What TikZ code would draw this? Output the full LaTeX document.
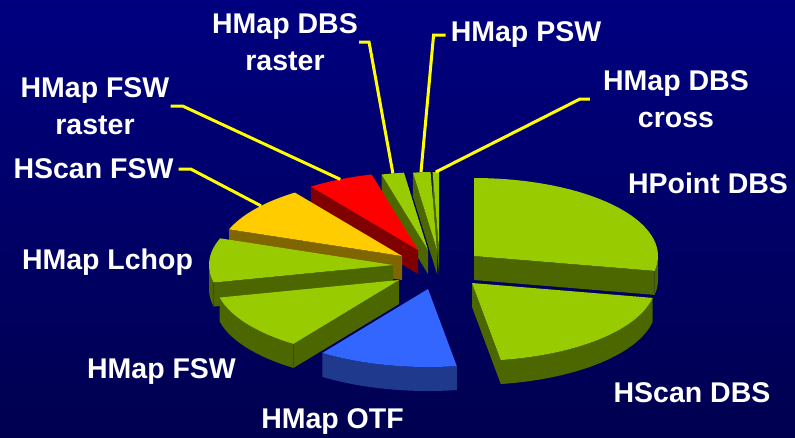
\documentclass[tikz,border=0pt]{standalone}
\usepackage{fontspec}
\setmainfont{Liberation Sans}
\usepackage{tikz}
\usetikzlibrary{positioning, calc}
\definecolor{bgtop}{RGB}{0, 0, 128}
\definecolor{bgbot}{RGB}{0, 0, 80}
\definecolor{pgreen}{RGB}{153, 204, 0}
\definecolor{pgreenside}{RGB}{76, 102, 0}
\definecolor{pred}{RGB}{255, 0, 0}
\definecolor{predside}{RGB}{128, 0, 0}
\definecolor{pyellow}{RGB}{255, 204, 0}
\definecolor{pyellowside}{RGB}{128, 102, 0}
\definecolor{pblue}{RGB}{51, 102, 255}
\definecolor{pblueside}{RGB}{31, 58, 140}
\definecolor{leadyellow}{RGB}{255, 255, 0}

% top face, outer wall and cut face of one slice (apex x, apex y, angles, colour)
\newcommand{\slicetop}[5]{%
  \fill[#5] (#1,#2) -- plot[domain=#3:#4, samples=40] ({#1+184*cos(\x)}, {#2-78*sin(\x)}) -- cycle;}
\newcommand{\slicewall}[5]{%
  \fill[#5] plot[domain=#3:#4, samples=40] ({#1+184*cos(\x)}, {#2-78*sin(\x)})
    -- plot[domain=#4:#3, samples=40] ({#1+184*cos(\x)}, {#2-78*sin(\x)+24}) -- cycle;}
\newcommand{\slicecut}[4]{%
  \fill[#4] (#1,#2) -- ({#1+184*cos(#3)}, {#2-78*sin(#3)})
    -- ({#1+184*cos(#3)}, {#2-78*sin(#3)+24}) -- (#1,{#2+24}) -- cycle;}

\begin{document}
\begin{tikzpicture}[
    x=1pt, y=-1pt,
    lbl/.style={text=white, font=\fontsize{28.5}{37}\selectfont\bfseries,
                align=center, inner sep=1pt},
    lead/.style={leadyellow, line width=3pt, line join=miter}
]
\useasboundingbox (0,0) rectangle (795,437);
\shade[top color=bgtop, bottom color=bgbot] (0,0) rectangle (795,437);

% Slices, back to front
\slicecut{439}{250}{92}{pgreenside}
\slicetop{439}{250}{90}{92}{pgreen}
\slicecut{437}{250}{97.5}{pgreenside}
\slicetop{437}{250}{92}{97.5}{pgreen}
\slicecut{428}{250}{104.6}{pgreenside}
\slicetop{428}{250}{97.5}{104.6}{pgreen}
\slicecut{418}{250}{125.6}{predside}
\slicetop{418}{250}{104.6}{125.6}{pred}
\slicecut{402}{256}{160}{pyellowside}
\slicetop{402}{256}{125.6}{160}{pyellow}
\slicecut{474}{256}{-11}{pgreenside}
\slicewall{474}{256}{-11}{0}{pgreenside}
\slicetop{474}{256}{-11}{90}{pgreen}
\slicecut{393}{265}{193}{pgreenside}
\slicewall{393}{265}{180}{193}{pgreenside}
\slicetop{393}{265}{160}{193}{pgreen}
\slicecut{399}{280}{-125}{pgreenside}
\slicewall{399}{280}{-167}{-125}{pgreenside}
\slicetop{399}{280}{-167}{-125}{pgreen}
\slicecut{472}{283}{-81}{pgreenside}
\slicewall{472}{283}{-81}{-11}{pgreenside}
\slicetop{472}{283}{-81}{-11}{pgreen}
\slicewall{428}{289}{-125}{-81}{pblueside}
\slicetop{428}{289}{-125}{-81}{pblue}

% Leader ends on the slices
\coordinate (redpt)   at ({418+184*cos(115)}, {250-78*sin(115)});
\coordinate (yelpt)   at ({402+184*cos(140)}, {256-78*sin(140)});
\coordinate (dbsrpt)  at ({428+184*cos(101)}, {250-78*sin(101)});
\coordinate (pswpt)   at ({437+184*cos(95)},  {250-78*sin(95)});
\coordinate (crosspt) at ({439+184*cos(91)},  {250-78*sin(91)});

% Labels
\node[lbl] (fswraster) at (95,106)    {HMap FSW\\raster};
\node[lbl] (scanfsw)   at (93.5,169)  {HScan FSW};
\node[lbl] (dbsraster) at (285,42)    {HMap DBS\\raster};
\node[lbl] (psw)       at (526,35)    {HMap PSW};
\node[lbl] (dbscross)  at (676,99)    {HMap DBS\\cross};
\node[lbl] (pointdbs)  at (708,183)   {HPoint DBS};
\node[lbl] (lchop)     at (107.5,262) {HMap Lchop};
\node[lbl] (mapfsw)    at (161.5,371) {HMap FSW};
\node[lbl] (scandbs)   at (692,393)   {HScan DBS};
\node[lbl] (otf)       at (332.5,421) {HMap OTF};

% Leaders
\draw[lead] (fswraster.east) -- ++(12,0) -- (redpt);
\draw[lead] ([xshift=4pt]scanfsw.east) -- ++(12,0) -- (yelpt);
\draw[lead] (dbsraster.east) -- ++(10,0) -- (dbsrpt);
\draw[lead] ([xshift=-4pt]psw.west) -- ++(-12,0) -- (pswpt);
\draw[lead] ([xshift=-12pt]dbscross.west) -- ++(-10,0) -- (crosspt);

\end{tikzpicture}
\end{document}
